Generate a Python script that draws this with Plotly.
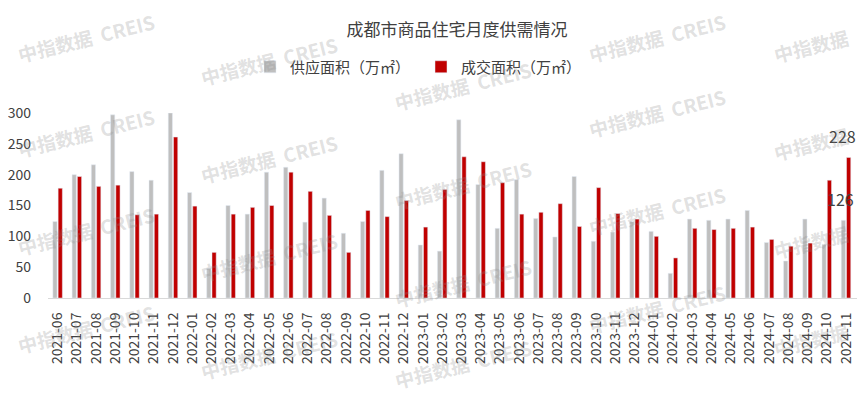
import plotly.graph_objects as go

months = [
    "2021-06", "2021-07", "2021-08", "2021-09", "2021-10", "2021-11", "2021-12",
    "2022-01", "2022-02", "2022-03", "2022-04", "2022-05", "2022-06", "2022-07",
    "2022-08", "2022-09", "2022-10", "2022-11", "2022-12",
    "2023-01", "2023-02", "2023-03", "2023-04", "2023-05", "2023-06", "2023-07",
    "2023-08", "2023-09", "2023-10", "2023-11", "2023-12",
    "2024-01", "2024-02", "2024-03", "2024-04", "2024-05", "2024-06", "2024-07",
    "2024-08", "2024-09", "2024-10", "2024-11",
]
supply = [124, 200, 216, 297, 205, 191, 300,
          171, 48, 150, 136, 204, 212, 123, 162, 105, 124, 207, 234,
          86, 76, 289, 184, 113, 192, 129, 99, 197, 92, 107, 124,
          108, 40, 128, 126, 128, 142, 90, 60, 128, 87, 126]
deal = [178, 197, 181, 183, 135, 136, 261,
        149, 74, 136, 147, 150, 204, 173, 134, 74, 142, 132, 158,
        115, 176, 229, 221, 187, 136, 139, 153, 116, 179, 137, 128,
        100, 65, 113, 111, 113, 115, 95, 84, 89, 191, 228]
y_ticks = [0, 50, 100, 150, 200, 250, 300]

title_text = "成都市商品住宅月度供需情况"
supply_name = "供应面积（万㎡）"
deal_name = "成交面积（万㎡）"
wm_full = "中指数据  CREIS"
wm_short = "中指数据"

FONT = "Microsoft YaHei, Noto Sans CJK SC, sans-serif"
TXT = "#404040"
GRAY = "#BFBFBF"
RED = "#C00000"
WM_COLOR = "rgba(140,140,140,0.27)"

# page has an 8px body margin; figure sized to fit the 865x399 window
W, H = 857, 391
ML, MR, MT, MB = 40, 7, 105, 101
PW, PH = W - ML - MR, H - MT - MB

fig = go.Figure()
fig.add_trace(go.Bar(x=months, y=supply, name=supply_name, marker_color=GRAY))
fig.add_trace(go.Bar(x=months, y=deal, name=deal_name, marker_color=RED))

# value labels for the last month
fig.add_annotation(x=months[-1], y=supply[-1], text=str(supply[-1]), xref="x", yref="y",
                   showarrow=False, xanchor="right", xshift=10, yshift=21, yanchor="middle",
                   font=dict(family=FONT, size=16, color=TXT))
fig.add_annotation(x=months[-1], y=deal[-1], text=str(deal[-1]), xref="x", yref="y",
                   showarrow=False, xanchor="right", xshift=12, yshift=21, yanchor="middle",
                   font=dict(family=FONT, size=16, color=TXT))

# watermarks (tiled, tilted) placed in figure pixels, converted to paper coords
for c in range(5):
    cx = 75 + 194 * c - 8
    y0 = (34 + 26 * c) % 98
    for k in range(0, 5):
        cy = y0 + 98 * k - 8
        if cy > H:
            continue
        text = wm_full
        x = max(cx, 78)
        y = min(max(cy, 29), H - 36)
        if c == 4:
            text = wm_short
            x = cx - 40
            y = min(cy + 5, H - 22)
        fig.add_annotation(x=(x - ML) / PW, y=1 - (y - MT) / PH, xref="paper", yref="paper",
                           text="<b>" + text + "</b>", showarrow=False,
                           textangle=-14, xanchor="center", yanchor="middle",
                           font=dict(family=FONT, size=19, color=WM_COLOR))

fig.update_layout(
    width=W, height=H,
    paper_bgcolor="white", plot_bgcolor="white",
    margin=dict(l=ML, r=MR, t=MT, b=MB, autoexpand=False),
    barmode="group", bargap=0.45, bargroupgap=0.2,
    font=dict(family=FONT, color=TXT),
    title=dict(text=title_text, x=449 / W, xanchor="center", y=1 - 22 / H, yanchor="middle",
               xref="container", yref="container",
               font=dict(family=FONT, size=17, color=TXT)),
    showlegend=True,
    legend=dict(orientation="h", xref="container", yref="container",
                x=242 / W, xanchor="left", y=1 - 59 / H, yanchor="middle",
                font=dict(family=FONT, size=15, color=TXT),
                bgcolor="rgba(0,0,0,0)", entrywidth=126, traceorder="normal"),
)
fig.update_xaxes(type="category", tickangle=-90, showgrid=False, zeroline=False,
                 showline=True, linecolor="#D9D9D9", linewidth=1, ticks="",
                 ticklabelstandoff=8,
                 tickfont=dict(family=FONT, size=14, color=TXT))
fig.update_yaxes(range=[0, 300], tickvals=y_ticks, showgrid=False, zeroline=False,
                 showline=False, ticks="", ticklabelstandoff=16,
                 tickfont=dict(family=FONT, size=14, color=TXT))

fig.write_html("out.html")
